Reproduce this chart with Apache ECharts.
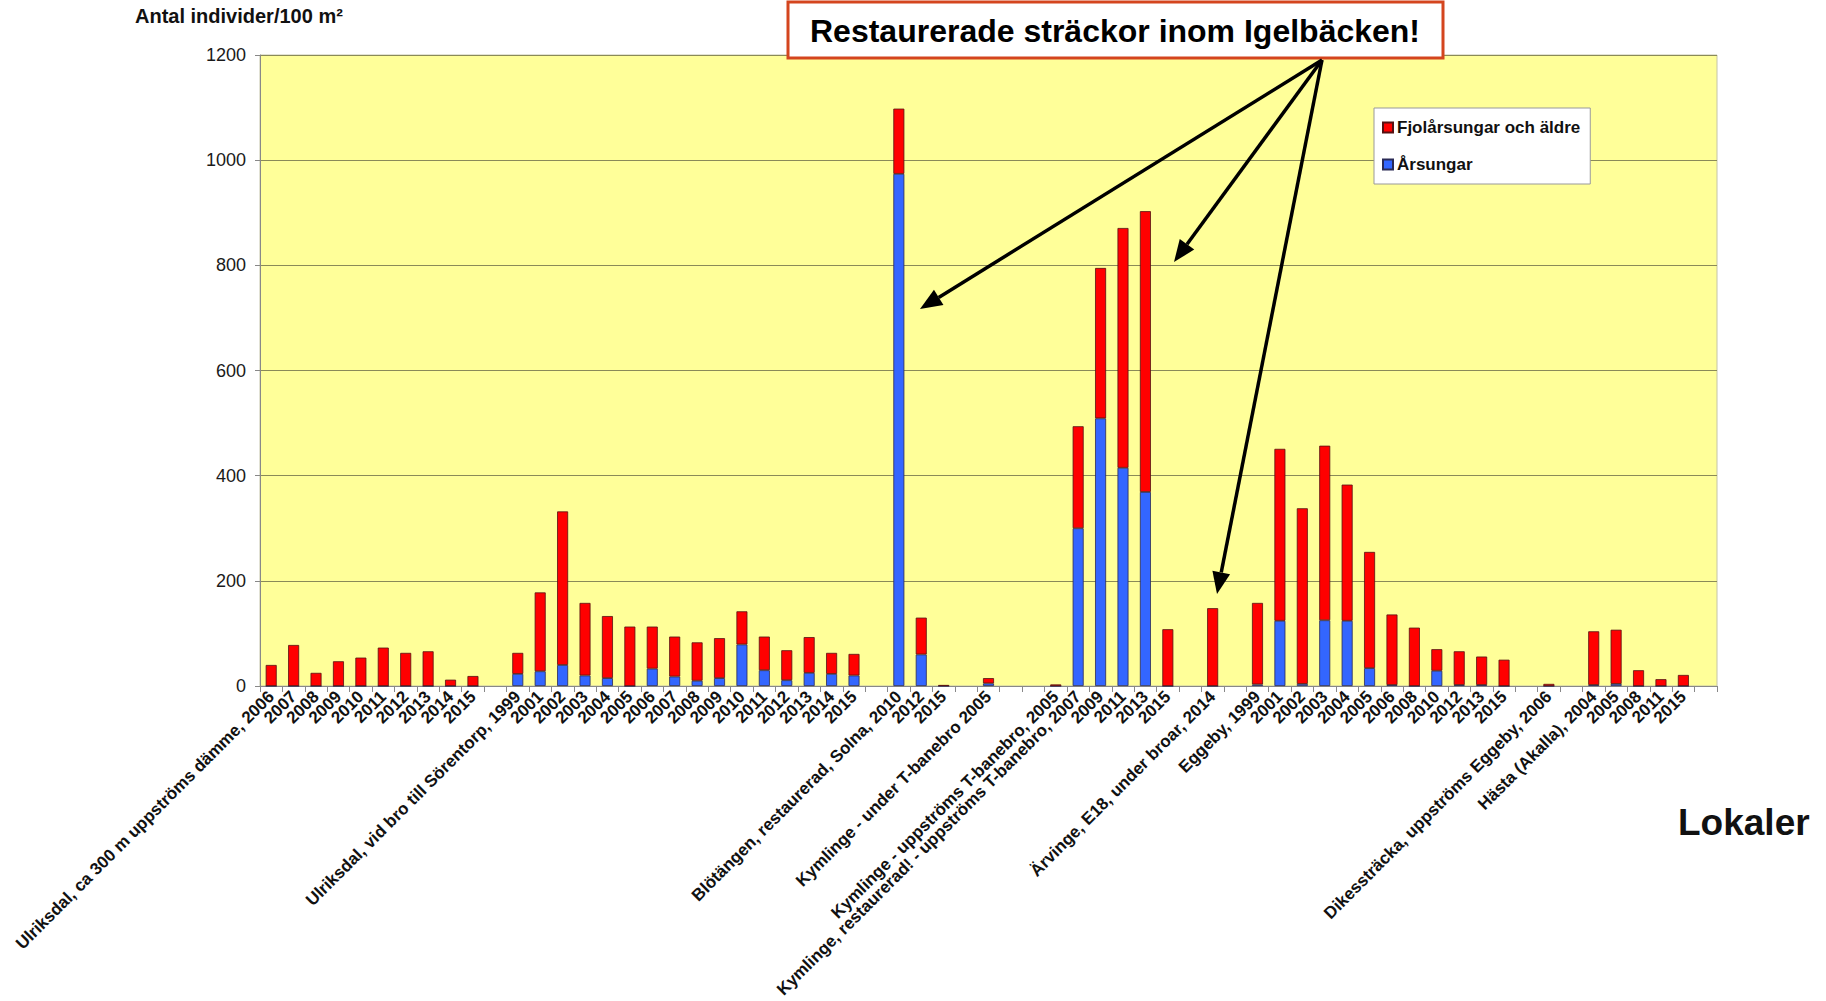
<!DOCTYPE html>
<html>
<head>
<meta charset="utf-8">
<title>Igelbäcken</title>
<script src="https://cdn.jsdelivr.net/npm/echarts@6/dist/echarts.min.js"></script>
<style>
  html, body { margin: 0; padding: 0; background: #fff; }
  #chart { width: 1826px; height: 1001px; }
</style>
</head>
<body>
<div id="chart"></div>
<script>
// lokaler och år ('' = tom plats mellan lokalerna)
const categories = [
  'Ulriksdal, ca 300 m uppströms dämme, 2006', '2007', '2008', '2009', '2010', '2011', '2012', '2013', '2014', '2015', '',
  'Ulriksdal, vid bro till Sörentorp, 1999', '2001', '2002', '2003', '2004', '2005', '2006', '2007', '2008', '2009', '2010', '2011', '2012', '2013', '2014', '2015', '',
  'Blötängen, restaurerad, Solna, 2010', '2012', '2015', '',
  'Kymlinge - under T-banebro 2005', '', '',
  'Kymlinge - uppströms T-banebro, 2005',
  'Kymlinge, restaurerad! - uppströms T-banebro, 2007', '2009', '2011', '2013', '2015', '',
  'Ärvinge, E18, under broar, 2014', '',
  'Eggeby, 1999', '2001', '2002', '2003', '2004', '2005', '2006', '2008', '2010', '2012', '2013', '2015', '',
  'Dikessträcka, uppströms Eggeby, 2006', '',
  'Hästa (Akalla), 2004', '2005', '2008', '2011', '2015', ''
]

// Årsungar (individer/100 m2)
const arsungar = [
  0, 0, 0, 0, 0, 0, 0, 0, 0, 0, null,
  23, 28, 40, 20, 15, 0, 33, 18, 10, 15, 79, 30, 11, 25, 23, 20, null,
  974, 60, 0, null,
  5, null, null,
  0,
  300, 509, 415, 369, 0, null,
  0, null,
  3, 124, 4, 125, 124, 34, 2, 0, 29, 2, 2, 0, null,
  0, null,
  2, 4, 0, 0, 0, null
]

// Fjolårsungar och äldre
const fjolarsungar = [
  40, 78, 25, 47, 54, 73, 63, 66, 12, 19, null,
  40, 150, 292, 138, 118, 113, 80, 76, 73, 76, 63, 64, 57, 68, 40, 41, null,
  124, 70, 2, null,
  10, null, null,
  3,
  194, 286, 456, 534, 108, null,
  148, null,
  155, 327, 334, 332, 259, 221, 134, 111, 41, 64, 54, 50, null,
  4, null,
  102, 103, 30, 13, 21, null
]

const yTicks = [0, 200, 400, 600, 800, 1000, 1200]

const font = 'Liberation Sans, Arial, sans-serif'

// pil från rutan ner mot en stapel
function arrow(x1, y1, x2, y2) {
  const a = Math.atan2(y2 - y1, x2 - x1)
  const L = 22, W = 9
  const bx = x2 - L * Math.cos(a), by = y2 - L * Math.sin(a)
  const px = -Math.sin(a), py = Math.cos(a)
  return [
    { type: 'line', shape: { x1: x1, y1: y1, x2: bx, y2: by }, style: { stroke: '#000', lineWidth: 3.5 }, z: 100 },
    { type: 'polygon', shape: { points: [[x2, y2], [bx + W * px, by + W * py], [bx - W * px, by - W * py]] }, style: { fill: '#000' }, z: 100 }
  ]
}

const chart = echarts.init(document.getElementById('chart'), null, { renderer: 'svg' })

chart.setOption({
  animation: false,
  textStyle: { fontFamily: font },
  grid: {
    left: 260, right: 109, top: 55, bottom: 315,
    show: true,
    backgroundColor: '#FFFF99',
    borderColor: '#c4c4a8',
    borderWidth: 1
  },
  legend: {
    orient: 'vertical',
    left: 1374,
    top: 108,
    data: ['Fjolårsungar och äldre', 'Årsungar'],
    icon: 'rect',
    itemWidth: 10,
    itemHeight: 10,
    itemGap: 20,
    padding: [11, 10, 11, 8],
    backgroundColor: '#fff',
    borderColor: '#999',
    borderWidth: 1,
    textStyle: { fontFamily: font, fontSize: 17, fontWeight: 'bold', color: '#111', padding: [0, 0, 0, -1] }
  },
  xAxis: {
    type: 'category',
    data: categories,
    axisLine: { lineStyle: { color: '#888', width: 1 } },
    axisTick: { show: true, interval: 0, length: 6, lineStyle: { color: '#888' } },
    axisLabel: {
      interval: 0,
      rotate: 45,
      margin: 8,
      fontFamily: font,
      fontSize: 17,
      fontWeight: 'bold',
      color: '#111'
    }
  },
  yAxis: {
    type: 'value',
    min: 0,
    max: 1200,
    interval: 200,
    axisLine: { show: true, lineStyle: { color: '#888' } },
    axisTick: { show: true, length: 5, lineStyle: { color: '#888' } },
    axisLabel: {
      margin: 14,
      fontFamily: font,
      fontSize: 18,
      color: '#1a1a1a',
      formatter: function (v) { return yTicks.indexOf(v) >= 0 ? String(v) : '' }
    },
    splitLine: { lineStyle: { color: '#8a8a58', width: 1 } }
  },
  series: [
    {
      name: 'Årsungar',
      type: 'bar',
      stack: 'tot',
      barWidth: 11,
      data: arsungar,
      itemStyle: { color: '#3366FF', borderColor: '#2a2a55', borderWidth: 0.8 }
    },
    {
      name: 'Fjolårsungar och äldre',
      type: 'bar',
      stack: 'tot',
      barWidth: 11,
      data: fjolarsungar,
      itemStyle: { color: '#FF0000', borderColor: '#551111', borderWidth: 0.8 }
    }
  ],
  graphic: [
    {
      type: 'text', left: 135, top: 6, z: 100,
      style: { text: 'Antal individer/100 m²', font: 'bold 20px ' + font, fill: '#111' }
    },
    {
      type: 'text', left: 1678, top: 804, z: 100,
      style: { text: 'Lokaler', font: 'bold 37px ' + font, fill: '#111' }
    },
    {
      type: 'rect', z: 90,
      shape: { x: 788, y: 2, width: 655, height: 56 },
      style: { fill: '#fff', stroke: '#d4451e', lineWidth: 3 }
    },
    {
      type: 'text', z: 101, x: 1115, y: 31,
      style: { text: 'Restaurerade sträckor inom Igelbäcken!', font: 'bold 32px ' + font, fill: '#000', textAlign: 'center', textVerticalAlign: 'middle' }
    }
  ]
    .concat(arrow(1322, 60, 920, 309))
    .concat(arrow(1322, 60, 1174, 262))
    .concat(arrow(1322, 60, 1217, 594))
})
</script>
</body>
</html>
